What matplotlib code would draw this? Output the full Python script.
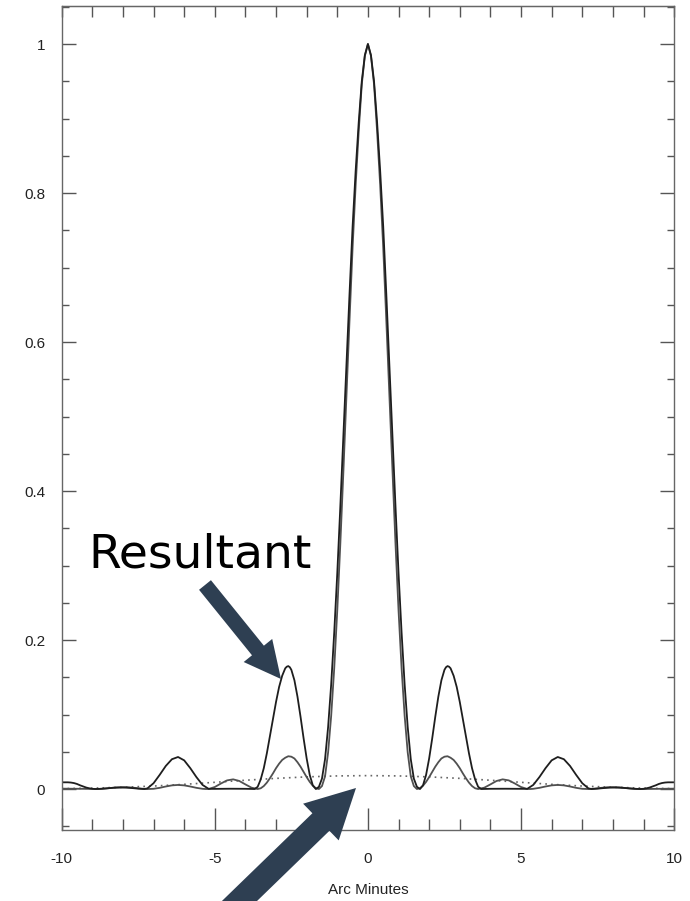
import numpy as np
import matplotlib.pyplot as plt
from matplotlib.ticker import MultipleLocator
from matplotlib.patches import FancyArrowPatch

# half profiles (x >= 0), mirrored for x < 0
x_res = [0.0, 0.1, 0.2, 0.3, 0.4, 0.5, 0.6, 0.7, 0.8, 0.9, 1.0, 1.1, 1.2, 1.3, 1.4, 1.5, 1.6, 1.7,
         1.8, 1.9, 2.0, 2.1, 2.2, 2.3, 2.4, 2.5, 2.55, 2.6, 2.65, 2.7, 2.8, 2.9, 3.0, 3.1, 3.2, 3.3,
         3.4, 3.5, 3.6, 3.7, 4.0, 4.5, 5.0, 5.2, 5.4, 5.6, 5.8, 6.0, 6.2, 6.4, 6.6, 6.8, 7.0, 7.2,
         7.3, 7.5, 7.7, 7.9, 8.1, 8.3, 8.5, 8.7, 8.9, 9.0, 9.1, 9.2, 9.3, 9.4, 9.5, 9.6, 9.7, 9.8,
         9.9, 10.0]
y_res = [1.0, 0.985, 0.95, 0.895, 0.83, 0.755, 0.665, 0.57, 0.475, 0.38, 0.29, 0.21, 0.14, 0.083,
         0.04, 0.014, 0.003, 0.0, 0.005, 0.019, 0.041, 0.068, 0.097, 0.124, 0.146, 0.160, 0.1635,
         0.165, 0.1642, 0.162, 0.152, 0.137, 0.117, 0.094, 0.071, 0.048, 0.028, 0.013, 0.003, 0.0,
         0.0003, 0.0004, 0.0002, 0.0002, 0.0055, 0.016, 0.028, 0.0385, 0.043, 0.040, 0.031, 0.019,
         0.0078, 0.0009, 0.0, 0.0005, 0.0013, 0.0019, 0.002, 0.0017, 0.001, 0.0003, 0.0,
         0.0003, 0.001, 0.002, 0.0035, 0.005, 0.0068, 0.008, 0.0087, 0.009, 0.009, 0.009]

x_airy = [0.0, 0.1, 0.2, 0.3, 0.4, 0.5, 0.6, 0.7, 0.8, 0.9, 1.0, 1.1, 1.2, 1.3, 1.4, 1.5, 1.6,
          1.7, 1.8, 1.9, 2.0, 2.1, 2.2, 2.3, 2.4, 2.5, 2.6, 2.7, 2.8, 2.9, 3.0, 3.1, 3.2, 3.3,
          3.4, 3.5, 3.6, 3.8, 4.0, 4.2, 4.4, 4.6, 4.8, 5.0, 5.2, 5.3, 5.4, 5.6, 5.8, 6.0, 6.2,
          6.4, 6.6, 6.8, 7.0, 7.2, 7.4, 7.6, 7.8, 8.0, 8.2, 8.4, 8.6, 8.8, 9.0, 9.5, 10.0]
y_airy = [1.0, 0.984, 0.946, 0.883, 0.811, 0.727, 0.63, 0.529, 0.427, 0.33, 0.24, 0.162, 0.098,
          0.049, 0.017, 0.004, 0.0, 0.0011, 0.0045, 0.0096, 0.016, 0.023, 0.030, 0.036, 0.041,
          0.0434, 0.044, 0.042, 0.039, 0.034, 0.028, 0.021, 0.0145, 0.0086, 0.004, 0.001, 0.0,
          0.0018, 0.0062, 0.0108, 0.013, 0.0116, 0.0074, 0.0027, 0.0001, 0.0, 0.0003, 0.0016,
          0.0034, 0.0049, 0.0055, 0.0049, 0.0034, 0.0016, 0.0003, 0.0, 0.0005, 0.0015, 0.0023,
          0.0025, 0.0022, 0.0014, 0.0006, 0.0001, 0.0, 0.0003, 0.0005]

x_dot = [0, 1, 2, 3, 4, 5, 6, 7, 8, 9, 10]
y_dot = [0.018, 0.0176, 0.0163, 0.0143, 0.0118, 0.009, 0.0063, 0.004, 0.0024, 0.0012, 0.0005]

y_ticks = [0, 0.2, 0.4, 0.6, 0.8, 1]
y_labels = ['0', '0.2', '0.4', '0.6', '0.8', '1']
x_ticks = [-10, -5, 0, 5, 10]
x_labels = ['-10', '-5', '0', '5', '10']


def mirror(x, y):
    x = np.array(x, dtype=float)
    y = np.array(y, dtype=float)
    return np.concatenate((-x[::-1][:-1], x)), np.concatenate((y[::-1][:-1], y))


plt.rcParams['font.family'] = ['Liberation Sans', 'DejaVu Sans']

fig = plt.figure(figsize=(6.9, 9.01), dpi=100)
ax = fig.add_axes([0.0894, 0.0788, 0.8876, 0.9145])

xr, yr = mirror(x_res, y_res)
xa, ya = mirror(x_airy, y_airy)
xd, yd = mirror(x_dot, y_dot)

ax.plot(xd, yd, color='#666666', lw=1.2, ls=(0, (1, 2.5)))
ax.plot(xa, ya, color='#505050', lw=1.3)
ax.plot(xr, yr, color='#1e1e1e', lw=1.3)

ax.set_xlim(-10, 10)
ax.set_ylim(-0.055, 1.051)
ax.set_xticks(x_ticks)
ax.set_xticklabels(x_labels)
ax.set_yticks(y_ticks)
ax.set_yticklabels(y_labels)
ax.xaxis.set_minor_locator(MultipleLocator(1))
ax.yaxis.set_minor_locator(MultipleLocator(0.05))
ax.tick_params(which='both', direction='in', right=True, top=False, color='#555555',
               width=1.0, labelsize=11, labelcolor='#222222')
ax.tick_params(axis='x', which='major', length=16, pad=16)
ax.tick_params(axis='x', which='minor', length=8)
ax.tick_params(axis='y', which='major', length=10, pad=12)
ax.tick_params(axis='y', which='minor', length=5)

sec = ax.secondary_xaxis('top')
sec.set_xticks(range(-10, 11))
sec.tick_params(direction='in', length=8, color='#555555', width=1.0, labeltop=False)
sec.spines['top'].set_color('#666666')

for s in ax.spines.values():
    s.set_color('#666666')
    s.set_linewidth(1.0)

ax.set_xlabel('Arc Minutes', fontsize=11, color='#222222', labelpad=12)

fig.text(88 / 690, 1 - 568 / 901, 'Resultant', fontsize=34, family='DejaVu Sans',
         color='black', va='baseline', ha='left')

arrow_color = '#2e3f52'
a1 = FancyArrowPatch((205 / 690, 316 / 901), (281 / 690, 222 / 901),
                     transform=fig.transFigure, arrowstyle='simple,head_length=1.2,head_width=1.2,tail_width=0.5',
                     mutation_scale=22, fc=arrow_color, ec='none', shrinkA=0, shrinkB=0)
a2 = FancyArrowPatch((224 / 690, -15 / 901), (356 / 690, 113 / 901),
                     transform=fig.transFigure, arrowstyle='simple,head_length=1.1,head_width=1.15,tail_width=0.55',
                     mutation_scale=32, fc=arrow_color, ec='none', shrinkA=0, shrinkB=0)
fig.add_artist(a1)
fig.add_artist(a2)

fig.savefig('out.png', dpi=100)
